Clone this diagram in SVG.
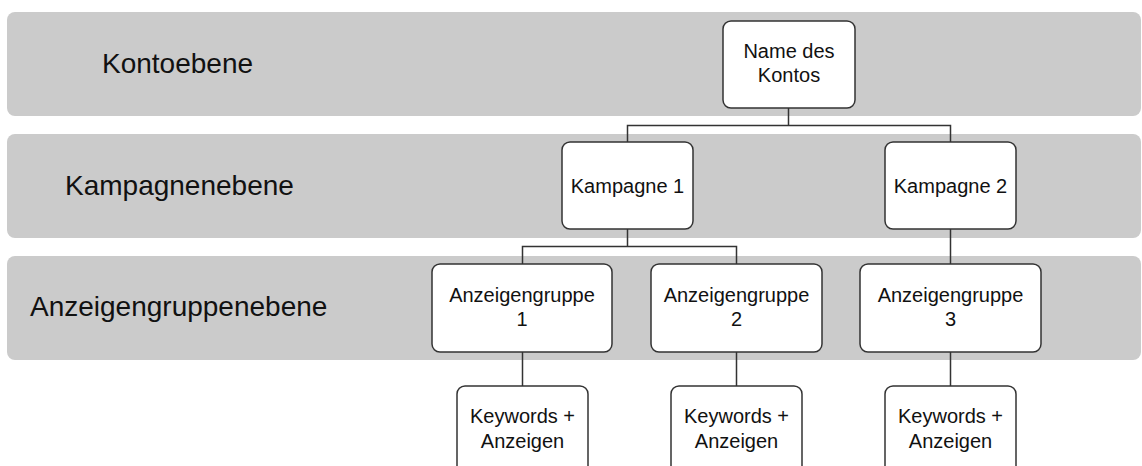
<svg xmlns="http://www.w3.org/2000/svg" width="1142" height="466" viewBox="0 0 1142 466">
<style>
.band{fill:#cbcbcb;}
.lvl{font-family:"Liberation Sans",Arial,sans-serif;font-size:28px;fill:#111;}
.node rect{fill:#fff;stroke:#333;stroke-width:1.5;}
.node text{font-family:"Liberation Sans",Arial,sans-serif;font-size:20px;fill:#111;text-anchor:middle;}
.conn{fill:none;stroke:#333;stroke-width:1.5;}
</style>
<rect width="1142" height="466" fill="#fff"/>
<g id="bands">
<rect class="band" x="7" y="12" width="1134" height="104" rx="8"/>
<rect class="band" x="7" y="134" width="1134" height="104" rx="8"/>
<rect class="band" x="7" y="256" width="1134" height="104" rx="8"/>
<text class="lvl" x="102" y="73">Kontoebene</text>
<text class="lvl" x="65" y="195">Kampagnenebene</text>
<text class="lvl" x="30" y="316">Anzeigengruppenebene</text>
</g>
<g id="connectors" class="conn">
<path d="M788.5 108 V125.5 H627.5 V142 M788.5 125.5 H950.5 V142"/>
<path d="M627.5 229 V246.5 H522.5 V264 M627.5 246.5 H736.5 V264"/>
<path d="M950.5 229 V264"/>
<path d="M522.5 352 V386 M736.5 352 V386 M950.5 352 V386"/>
</g>
<g id="konto" class="node">
<rect x="723" y="21" width="132" height="87" rx="8"/>
<text x="789" y="58">Name des</text>
<text x="789" y="82">Kontos</text>
</g>
<g id="kampagne1" class="node">
<rect x="562" y="142" width="131" height="87" rx="8"/>
<text x="627.5" y="193">Kampagne 1</text>
</g>
<g id="kampagne2" class="node">
<rect x="885" y="142" width="131" height="87" rx="8"/>
<text x="950.5" y="193">Kampagne 2</text>
</g>
<g id="gruppe1" class="node">
<rect x="432" y="264" width="180" height="88" rx="8"/>
<text x="522" y="302">Anzeigengruppe</text>
<text x="522" y="326">1</text>
</g>
<g id="gruppe2" class="node">
<rect x="651" y="264" width="171" height="88" rx="8"/>
<text x="736.5" y="302">Anzeigengruppe</text>
<text x="736.5" y="326">2</text>
</g>
<g id="gruppe3" class="node">
<rect x="860" y="264" width="181" height="88" rx="8"/>
<text x="950.5" y="302">Anzeigengruppe</text>
<text x="950.5" y="326">3</text>
</g>
<g id="keywords1" class="node">
<rect x="457" y="386" width="131" height="100" rx="8"/>
<text x="522.5" y="423">Keywords +</text>
<text x="522.5" y="448">Anzeigen</text>
</g>
<g id="keywords2" class="node">
<rect x="671" y="386" width="131" height="100" rx="8"/>
<text x="736.5" y="423">Keywords +</text>
<text x="736.5" y="448">Anzeigen</text>
</g>
<g id="keywords3" class="node">
<rect x="885" y="386" width="131" height="100" rx="8"/>
<text x="950.5" y="423">Keywords +</text>
<text x="950.5" y="448">Anzeigen</text>
</g>
</svg>
